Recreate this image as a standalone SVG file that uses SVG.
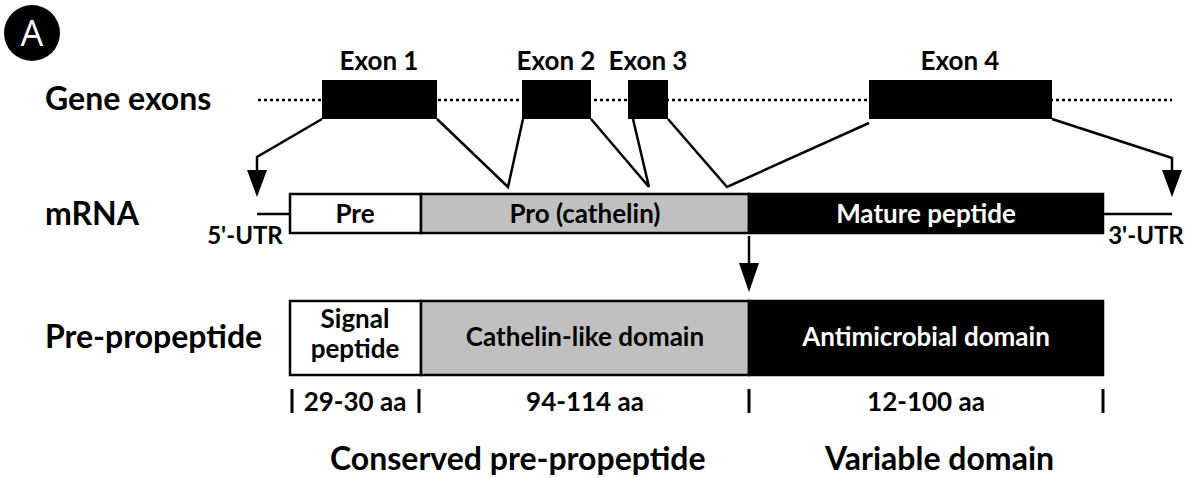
<svg xmlns="http://www.w3.org/2000/svg" width="1188" height="478" viewBox="0 0 1188 478">
<style>
text{font-family:Lato,"Open Sans","Liberation Sans",sans-serif;font-weight:700;fill:#000}
.big{font-size:32px}
.ex{font-size:26px;text-anchor:middle}
.in{font-size:26px;text-anchor:middle}
.utr{font-size:24px;text-anchor:middle}
.w{fill:#fff}
.con{fill:none;stroke:#000;stroke-width:2.5;stroke-linejoin:miter}
.tick{stroke:#000;stroke-width:3}
.box{stroke:#000;stroke-width:2.5}
</style>
<rect width="1188" height="478" fill="#fff"/>
<g id="badge">
<circle cx="32" cy="33" r="28" fill="#000"/>
<text x="32" y="46" style="font-family:'Open Sans',Lato,sans-serif;font-weight:400;font-size:36px;text-anchor:middle;fill:#fff">A</text>
</g>
<g id="row-labels">
<text class="big" x="45" y="110">Gene exons</text>
<text class="big" x="45" y="225">mRNA</text>
<text class="big" x="45" y="348">Pre-propeptide</text>
</g>
<g id="gene-line">
<line x1="258" y1="100" x2="1172" y2="100" stroke="#000" stroke-width="2.5" stroke-dasharray="3 3"/>
</g>
<g id="exon1"><rect x="322" y="80" width="115" height="39" fill="#000"/><text class="ex" x="379" y="70">Exon 1</text></g>
<g id="exon2"><rect x="522" y="80" width="69" height="39" fill="#000"/><text class="ex" x="556" y="70">Exon 2</text></g>
<g id="exon3"><rect x="628" y="80" width="40" height="39" fill="#000"/><text class="ex" x="648" y="70">Exon 3</text></g>
<g id="exon4"><rect x="869" y="80" width="183" height="39" fill="#000"/><text class="ex" x="960" y="70">Exon 4</text></g>
<g id="connectors">
<path class="con" d="M322,119 L257,157 L257,172"/>
<polygon points="247,170 267,170 257,197" fill="#000"/>
<path class="con" d="M437,119 L508,187 L523,119"/>
<path class="con" d="M591,119 L649,187 L633,119"/>
<path class="con" d="M668,119 L727,187 L869,123"/>
<path class="con" d="M1052,119 L1172,158 L1172,172"/>
<polygon points="1162,170 1182,170 1172,197" fill="#000"/>
<line class="con" x1="257" y1="214" x2="290" y2="214"/>
<line class="con" x1="1103" y1="214" x2="1172" y2="214"/>
<line class="con" x1="749" y1="236" x2="749" y2="265"/>
<polygon points="739,263 759,263 749,292" fill="#000"/>
</g>
<g id="mrna">
<rect class="box" x="290" y="194" width="131" height="39" fill="#fff"/>
<rect class="box" x="421" y="194" width="328" height="39" fill="#c0c0c0"/>
<rect class="box" x="749" y="194" width="354" height="39" fill="#000"/>
<text class="in" x="355" y="223">Pre</text>
<text class="in" x="585" y="223">Pro (cathelin)</text>
<text class="in w" x="926" y="223">Mature peptide</text>
<text class="utr" x="245" y="244">5'-UTR</text>
<text class="utr" x="1146" y="244">3'-UTR</text>
</g>
<g id="propeptide">
<rect class="box" x="290" y="301" width="131" height="74" fill="#fff"/>
<rect class="box" x="421" y="301" width="328" height="74" fill="#c0c0c0"/>
<rect class="box" x="749" y="301" width="354" height="74" fill="#000"/>
<text class="in" x="355" y="328">Signal</text>
<text class="in" x="355" y="358">peptide</text>
<text class="in" x="585" y="346">Cathelin-like domain</text>
<text class="in w" x="926" y="346">Antimicrobial domain</text>
</g>
<g id="ticks">
<line class="tick" x1="292" y1="389" x2="292" y2="413"/>
<line class="tick" x1="419" y1="389" x2="419" y2="413"/>
<line class="tick" x1="749" y1="389" x2="749" y2="413"/>
<line class="tick" x1="1103" y1="389" x2="1103" y2="413"/>
<text class="in" x="355" y="411">29-30 aa</text>
<text class="in" x="585" y="411">94-114 aa</text>
<text class="in" x="926" y="411">12-100 aa</text>
</g>
<g id="bottom-labels">
<text class="big" x="330" y="470">Conserved pre-propeptide</text>
<text class="big" x="825" y="470">Variable domain</text>
</g>
</svg>
